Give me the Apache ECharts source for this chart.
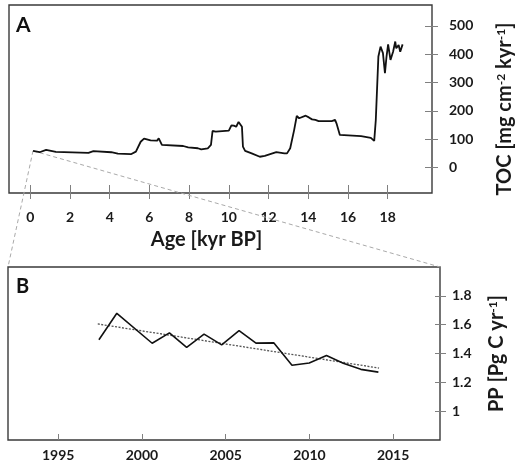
<!DOCTYPE html>
<html><head><meta charset="utf-8">
<script src="https://cdn.jsdelivr.net/npm/echarts@6/dist/echarts.min.js"></script>
<style>html,body{margin:0;padding:0;background:#fff}#c{width:523px;height:466px}</style>
</head><body><div id="c"></div>
<script>
// Panel A: TOC accumulation vs age
const tocAge = [0.14,0.47,0.80,1.29,2.93,3.18,4.08,4.41,5.07,5.32,5.56,5.73,6.06,6.39,6.47,6.63,6.72,7.70,7.95,8.44,8.61,8.94,9.10,9.18,9.34,10.00,10.13,10.25,10.37,10.49,10.59,10.66,10.71,10.82,11.15,11.56,11.81,12.39,12.80,12.93,13.09,13.29,13.42,13.54,13.87,14.03,14.19,14.36,14.44,14.52,15.18,15.35,15.42,15.59,15.67,16.66,17.15,17.32,17.40,17.53,17.64,17.76,17.86,17.94,18.02,18.14,18.27,18.38,18.43,18.55,18.63,18.75];
const tocValue = [59,54,62,55,52,58,54,49,47,56,91,102,96,95,103,80,76,76,71,68,64,68,80,129,127,130,149,148,144,161,163,144,74,59,50,38,41,54,50,50,68,133,182,174,183,177,170,168,172,164,164,168,156,115,111,111,105,94,168,392,427,404,333,392,435,380,409,445,421,433,409,435];
const ageTicks = [0,2,4,6,8,10,12,14,16,18];
const tocTicks = [0,100,200,300,400,500];
// Panel B: primary production vs year
const ppYear = [1997.43,1998.50,2000.61,2001.64,2002.67,2003.71,2004.76,2005.80,2006.81,2007.87,2008.96,2009.99,2011.02,2012.02,2013.07,2014.12];
const ppValue = [1.495,1.679,1.471,1.543,1.443,1.534,1.460,1.559,1.472,1.474,1.319,1.334,1.386,1.332,1.290,1.271];
const trendYear = [1997.36, 2014.16];
const trendValue = [1.605, 1.299];
const yearTicks = [1995,2000,2005,2010,2015];
const ppTicks = [1,1.2,1.4,1.6,1.8];

const zip = (a, b) => a.map((v, i) => [v, b[i]]);
const FONT = 'Lato';
const lbl = {fontFamily: FONT, fontWeight: 'bold', fontSize: 14, color: '#1a1a1a', formatter: v => String(v)};
const nameStyle = {fontFamily: FONT, fontWeight: 'bold', fontSize: 20, color: '#1a1a1a'};
const supStyle = {fontFamily: FONT, fontWeight: 'bold', fontSize: 12, color: '#1a1a1a', verticalAlign: 'top', lineHeight: 12};
const tickStyle = {color: '#808080', width: 1};
const noLine = {show: false, onZero: false};

const chart = echarts.init(document.getElementById('c'), null, {renderer: 'canvas'});
const A = {xmin: -1.07, xmax: 20.23, ymin: -90, ymax: 574};
const B = {xmin: 1992, xmax: 2017.8, ymin: 0.8, ymax: 2.0};
chart.setOption({
  animation: false,
  backgroundColor: '#fff',
  grid: [
    {left: 9, top: 5, width: 432, height: 188, show: true, borderColor: '#3a3a3a', borderWidth: 1.4},
    {left: 8, top: 267, width: 432, height: 173, show: true, borderColor: '#3a3a3a', borderWidth: 1.4}
  ],
  xAxis: [
    {gridIndex: 0, type: 'value', min: A.xmin, max: A.xmax, offset: -8, axisLine: noLine, splitLine: {show: false},
     axisTick: {show: true, length: 14, customValues: ageTicks, lineStyle: tickStyle},
     axisLabel: Object.assign({margin: 25, customValues: ageTicks}, lbl),
     name: 'Age [kyr BP]', nameLocation: 'middle', nameGap: 45,
     nameTextStyle: Object.assign({padding: [0, 28, 0, 0]}, nameStyle)},
    {gridIndex: 1, type: 'value', min: B.xmin, max: B.xmax, axisLine: noLine, splitLine: {show: false},
     axisTick: {show: true, inside: true, length: 6, customValues: yearTicks, lineStyle: tickStyle},
     axisLabel: Object.assign({margin: 8, customValues: yearTicks}, lbl)}
  ],
  yAxis: [
    {gridIndex: 0, type: 'value', position: 'right', min: A.ymin, max: A.ymax, offset: -7, axisLine: noLine, splitLine: {show: false},
     axisTick: {show: true, length: 13, customValues: tocTicks, lineStyle: tickStyle},
     axisLabel: Object.assign({margin: 24, customValues: tocTicks}, lbl),
     name: 'TOC [mg cm{sup|-2} kyr{sup|-1}]', nameLocation: 'middle', nameGap: 70,
     nameTextStyle: Object.assign({rich: {sup: supStyle}, padding: [0, 20, 0, 0]}, nameStyle)},
    {gridIndex: 1, type: 'value', position: 'right', min: B.ymin, max: B.ymax, offset: -5, axisLine: noLine, splitLine: {show: false},
     axisTick: {show: true, length: 11, customValues: ppTicks, lineStyle: tickStyle},
     axisLabel: Object.assign({margin: 17, customValues: ppTicks}, lbl),
     name: 'PP [Pg C yr{sup|-1}]', nameLocation: 'middle', nameGap: 52,
     nameTextStyle: Object.assign({rich: {sup: supStyle}}, nameStyle)}
  ],
  series: [
    {type: 'line', xAxisIndex: 0, yAxisIndex: 0, data: zip(tocAge, tocValue), showSymbol: false,
     lineStyle: {color: '#111', width: 1.8}, z: 3},
    {type: 'line', xAxisIndex: 1, yAxisIndex: 1, data: zip(ppYear, ppValue), showSymbol: false,
     lineStyle: {color: '#111', width: 1.6}, z: 3},
    {type: 'line', xAxisIndex: 1, yAxisIndex: 1, data: zip(trendYear, trendValue), showSymbol: false,
     lineStyle: {color: '#555', width: 1.3, type: [2, 1.5]}, z: 2}
  ]
});

const p0 = chart.convertToPixel({xAxisIndex: 0, yAxisIndex: 0}, [tocAge[0], tocValue[0]]);
const bl = chart.convertToPixel({xAxisIndex: 1, yAxisIndex: 1}, [B.xmin, B.ymax]);
const br = chart.convertToPixel({xAxisIndex: 1, yAxisIndex: 1}, [B.xmax, B.ymax]);
const dash = {stroke: '#aaaaaa', lineWidth: 1, lineDash: [4, 3]};
chart.setOption({
  graphic: [
    {type: 'line', shape: {x1: p0[0], y1: p0[1], x2: bl[0], y2: bl[1]}, style: dash, z: 1, silent: true},
    {type: 'line', shape: {x1: p0[0], y1: p0[1], x2: br[0], y2: br[1]}, style: dash, z: 1, silent: true},
    {type: 'text', left: 16, top: 15, style: {text: 'A', font: 'bold 21px Lato', fill: '#111'}},
    {type: 'text', left: 16, top: 277, style: {text: 'B', font: 'bold 20px Lato', fill: '#111'}}
  ]
});
</script></body></html>
